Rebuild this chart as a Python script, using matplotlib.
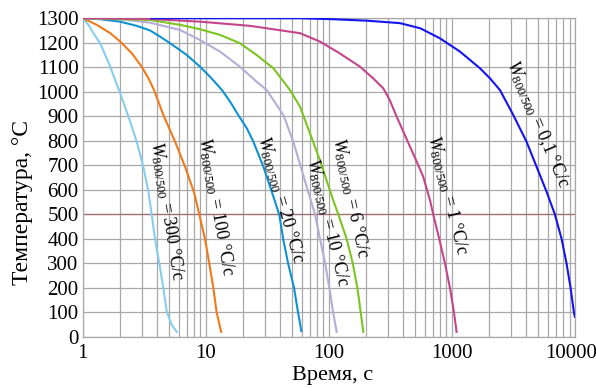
import matplotlib.pyplot as plt
import matplotlib.transforms as mtransforms
import numpy as np

plt.rcParams['font.family'] = ['Liberation Serif', 'DejaVu Serif']
plt.rcParams['mathtext.fontset'] = 'custom'
plt.rcParams['mathtext.rm'] = 'Liberation Serif'
plt.rcParams['mathtext.it'] = 'Liberation Serif:italic'

# cooling curves: time (s) and temperature (°C)
t_300 = [1, 1.11, 1.22, 1.38, 1.52, 1.67, 1.83, 2.01, 2.35, 2.74, 3.1, 3.41,
         3.63, 3.87, 4.19, 4.51, 4.81, 5.28, 5.8]
T_300 = [1300, 1273, 1239, 1198, 1150, 1102, 1048, 994, 898, 796, 694, 592,
         497, 395, 297, 198, 102, 48, 20]

t_100 = [1, 1.3, 1.67, 2.01, 2.5, 3.01, 3.41, 3.79, 4.51, 5.62, 6.77, 8.06,
         8.85, 9.84, 10.67, 11.5, 12.2, 13.3]
T_100 = [1300, 1273, 1239, 1205, 1157, 1102, 1055, 1007, 905, 796, 694, 585,
         497, 398, 297, 198, 102, 20]

t_20 = [1, 1.38, 2.01, 2.74, 3.52, 4.24, 5.12, 6.99, 8.97, 11.1, 13.5, 15.7,
        18.3, 21.5, 24.3, 29.3, 34.3, 39.5, 42.6, 46.5, 52, 56, 58.2, 59.5]
T_20 = [1300, 1296, 1286, 1269, 1250, 1225, 1198, 1150, 1102, 1055, 1007, 960,
        905, 851, 796, 694, 592, 497, 395, 300, 200, 100, 55, 23]

t_10 = [1, 2.01, 3.52, 6.17, 8.97, 13.0, 18.9, 25.8, 31.2, 42.6, 51.3, 59,
        67, 77, 84.5, 93, 100.7, 108, 115.5]
T_10 = [1300, 1296, 1282, 1252, 1211, 1164, 1102, 1041, 1007, 905, 796, 694,
        600, 500, 400, 300, 200, 100, 20]

t_6 = [1, 3.52, 6.17, 8.97, 13.0, 18.9, 25.8, 35.3, 48.2, 58.2, 70.1, 84.3,
       108, 119, 139, 156, 170, 181, 190]
T_6 = [1300, 1293, 1273, 1255, 1232, 1198, 1150, 1096, 1007, 939, 830, 721,
       558, 500, 400, 300, 200, 100, 20]

t_1 = [1, 3.52, 8.97, 22.8, 58.2, 84.3, 122, 179, 228, 276, 311, 355, 402,
       455, 516, 583, 661, 703, 786, 875, 961, 1036, 1088]
T_1 = [1300, 1297, 1286, 1269, 1239, 1205, 1157, 1102, 1055, 1014, 967, 898,
       837, 776, 715, 653, 558, 500, 400, 300, 200, 100, 20]

t_01 = [3.6, 58.2, 108, 203, 377, 552, 797, 1159, 1683, 2030, 2449, 3143,
        4030, 4860, 5860, 6840, 7760, 8510, 9180, 9770, 9950]
T_01 = [1300, 1300, 1296, 1290, 1280, 1259, 1218, 1164, 1096, 1055, 1007, 905,
        796, 694, 592, 500, 400, 300, 200, 100, 82]

rates = ['300', '100', '20', '10', '6', '1', '0,1']
colors = ['#86cdf0', '#f07a1c', '#1092d2', '#b6acd8', '#7cc520', '#c4458c', '#1414f0']
curves = [(t_300, T_300), (t_100, T_100), (t_20, T_20), (t_10, T_10),
          (t_6, T_6), (t_1, T_1), (t_01, T_01)]

# label centre (time, temperature) and angle
lab_t = [4.8, 12.1, 40.8, 98, 148, 912, 4980]
lab_T = [515, 530, 558, 464, 566, 578, 869]
lab_rot = [-81, -80, -74, -76, -78, -76, -67]

fig = plt.figure(figsize=(5.96, 3.88), dpi=100)
ax = fig.add_axes([0.139, 0.132, 0.826, 0.821])

grid_c = '#a8a8a8'
ax.set_xscale('log')
ax.set_xlim(1, 10000)
ax.set_ylim(0, 1300)
ax.set_yticks(np.arange(0, 1301, 100))
ax.set_xticks([1, 10, 100, 1000, 10000])
ax.set_xticklabels(['1', '10', '100', '1000', '10000'])
ax.grid(True, which='both', axis='x', color=grid_c, lw=0.9)
ax.grid(True, which='major', axis='y', color=grid_c, lw=0.9)
ax.axhline(500, color='#a07070', lw=0.9, zorder=1.5)
ax.set_axisbelow(True)
for s in ax.spines.values():
    s.set_color(grid_c)
    s.set_linewidth(0.9)
ax.tick_params(which='both', length=0, labelsize=15, pad=5)
ax.tick_params(axis='y', pad=3)

# keep "10000" inside the picture
last = ax.get_xticklabels()[-1]
last.set_transform(last.get_transform() +
                   mtransforms.ScaledTranslation(-4 / 100, 0, fig.dpi_scale_trans))

for (t, T), c in zip(curves, colors):
    ax.plot(t, T, color=c, lw=1.5, zorder=3)

for r, x, y, a in zip(rates, lab_t, lab_T, lab_rot):
    ax.text(x, y, r'$\mathit{W}_{\mathrm{800/500}}$ = ' + r + ' °C/c',
            rotation=a, rotation_mode='anchor', ha='center', va='center',
            fontsize=13, zorder=4)

ax.set_xlabel('Время, с', fontsize=16)
ax.set_ylabel('Температура, °C', fontsize=17)
ax.xaxis.set_label_coords(0.508, -0.092)
ax.yaxis.set_label_coords(-0.102, 0.42)

fig.savefig('out.png', dpi=100)
